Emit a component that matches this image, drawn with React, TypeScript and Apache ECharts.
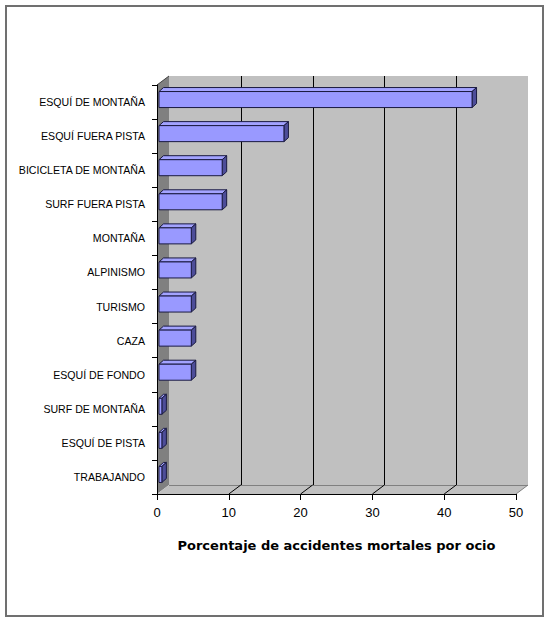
import React, { useEffect, useRef } from "react";
import * as echarts from "echarts";

const categories = [
  "ESQUÍ DE MONTAÑA",
  "ESQUÍ FUERA PISTA",
  "BICICLETA DE MONTAÑA",
  "SURF FUERA PISTA",
  "MONTAÑA",
  "ALPINISMO",
  "TURISMO",
  "CAZA",
  "ESQUÍ DE FONDO",
  "SURF DE MONTAÑA",
  "ESQUÍ DE PISTA",
  "TRABAJANDO",
];
const values = [43.6, 17.4, 8.8, 8.8, 4.5, 4.5, 4.5, 4.5, 4.5, 0.4, 0.4, 0.4];
const xTicks = [0, 10, 20, 30, 40, 50];
const axisTitle = "Porcentaje de accidentes mortales por ocio";

const DX = 12;
const DY = -9;
const BDX = 4.5;
const BDY = -4;
const px = (v: number) => Math.round(v) + 0.5;

export default function App() {
  const ref = useRef<HTMLDivElement>(null);
  useEffect(() => {
    if (!ref.current) return;
    const chart = echarts.init(ref.current, null, { renderer: "svg" });
    const wallsRender = (params: any, api: any) => {
      const cs = params.coordSys;
      const x0 = cs.x;
      const y0 = cs.y;
      const x1 = cs.x + cs.width;
      const y1 = cs.y + cs.height;
      const children: any[] = [];
      children.push({
        type: "rect",
        shape: { x: x0 + DX, y: y0 + DY, width: cs.width, height: cs.height },
        style: { fill: "#c0c0c0" },
      });
      children.push({
        type: "polygon",
        shape: { points: [[x0, y0], [x0 + DX, y0 + DY], [x0 + DX, y1 + DY], [x0, y1]] },
        style: { fill: "#808080" },
      });
      children.push({
        type: "polygon",
        shape: { points: [[x0, y1], [x0 + DX, y1 + DY], [x1 + DX, y1 + DY], [x1, y1]] },
        style: { fill: "#c0c0c0" },
      });
      children.push({
        type: "line",
        shape: { x1: x0 + DX, y1: px(y1 + DY), x2: x1 + DX, y2: px(y1 + DY) },
        style: { stroke: "#808080", lineWidth: 1 },
      });
      children.push({
        type: "line",
        shape: { x1: x0, y1: y0, x2: x0 + DX, y2: y0 + DY },
        style: { stroke: "#404040", lineWidth: 1 },
      });
      const last = xTicks[xTicks.length - 1];
      xTicks.forEach((v) => {
        const xp = api.coord([v, 0])[0];
        if (v > xTicks[0] && v < last) {
          children.push({
            type: "line",
            shape: { x1: px(xp + DX), y1: y0 + DY, x2: px(xp + DX), y2: y1 + DY },
            style: { stroke: "#000", lineWidth: 1 },
          });
          children.push({
            type: "line",
            shape: { x1: xp, y1: y1, x2: xp + DX, y2: y1 + DY },
            style: { stroke: "#000", lineWidth: 1 },
          });
        } else if (v === last) {
          children.push({
            type: "line",
            shape: { x1: xp, y1: y1, x2: xp + DX, y2: y1 + DY },
            style: { stroke: "#808080", lineWidth: 1 },
          });
        }
      });
      return { type: "group", children };
    };
    const barsRender = (params: any, api: any) => {
      const val = api.value(0);
      const idx = api.value(1);
      const s = api.coord([0, idx]);
      const e = api.coord([val, idx]);
      const band = api.size([0, 1])[1];
      const h = band * 0.47;
      const xs = s[0] + 2;
      const xe = e[0] + 2;
      const yc = s[1] - 2.5;
      const yt = yc - h / 2;
      const yb = yc + h / 2;
      const stroke = "#1a1a40";
      return {
        type: "group",
        children: [
          {
            type: "polygon",
            shape: { points: [[xs, yt], [xs + BDX, yt + BDY], [xe + BDX, yt + BDY], [xe, yt]] },
            style: { fill: "#a3a3ff", stroke, lineWidth: 1 },
          },
          {
            type: "polygon",
            shape: { points: [[xe, yt], [xe + BDX, yt + BDY], [xe + BDX, yb + BDY], [xe, yb]] },
            style: { fill: "#4d4d99", stroke, lineWidth: 1 },
          },
          {
            type: "rect",
            shape: { x: xs, y: yt, width: xe - xs, height: yb - yt },
            style: { fill: "#9999ff", stroke, lineWidth: 1 },
          },
        ],
      };
    };
    chart.setOption({
      animation: false,
      graphic: [
        {
          type: "rect",
          shape: { x: 6, y: 6, width: 537, height: 610 },
          style: { fill: "none", stroke: "#707070", lineWidth: 2 },
          z: 10,
        },
      ],
      grid: { left: 157, top: 85, width: 359, height: 409 },
      xAxis: {
        type: "value",
        min: 0,
        max: 50,
        interval: 10,
        z: 3,
        axisLine: { show: true, lineStyle: { color: "#000", width: 1 } },
        axisTick: { show: true, length: 6, lineStyle: { color: "#000" } },
        splitLine: { show: false },
        axisLabel: {
          fontSize: 13,
          color: "#000",
          margin: 12,
          fontFamily: "Liberation Sans",
        },
        name: axisTitle,
        nameLocation: "middle",
        nameGap: 45,
        nameTextStyle: {
          fontSize: 13,
          fontWeight: "bold",
          color: "#000",
          fontFamily: "DejaVu Sans",
        },
      },
      yAxis: {
        type: "category",
        inverse: true,
        data: categories,
        z: 3,
        axisLine: { show: true, lineStyle: { color: "#000", width: 1 } },
        axisTick: { show: true, length: 5, lineStyle: { color: "#000" } },
        splitLine: { show: false },
        axisLabel: {
          fontSize: 10.6,
          color: "#000",
          margin: 12,
          fontFamily: "Liberation Sans",
        },
      },
      series: [
        {
          type: "custom",
          coordinateSystem: "cartesian2d",
          renderItem: wallsRender,
          data: [[0, 0]],
          clip: false,
          silent: true,
          z: 1,
        },
        {
          type: "custom",
          coordinateSystem: "cartesian2d",
          renderItem: barsRender,
          data: values.map((v, i) => [v, i]),
          encode: { x: 0, y: 1 },
          clip: false,
          silent: true,
          z: 4,
        },
      ],
    });
    return () => chart.dispose();
  }, []);
  return (
    <div
      ref={ref}
      style={{ position: "fixed", left: 0, top: 0, width: 550, height: 623, background: "#fff" }}
    />
  );
}
